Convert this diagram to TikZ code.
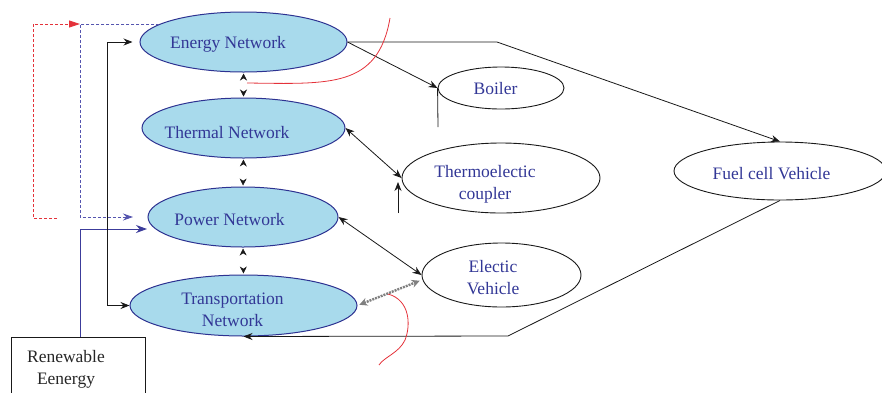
\documentclass[tikz,border=0pt]{standalone}
\usepackage{fontspec}
\setmainfont{Liberation Serif}
\usetikzlibrary{shapes.geometric,arrows.meta}
\definecolor{netfill}{RGB}{168,218,236}
\definecolor{netdraw}{RGB}{45,50,145}
\definecolor{nettext}{RGB}{50,55,150}
\definecolor{redl}{RGB}{228,50,58}
\definecolor{bluedash}{RGB}{85,85,175}
\definecolor{bluel}{RGB}{60,60,155}
\begin{document}
\begin{tikzpicture}[x=1pt,y=-1pt,
  font=\fontsize{17.5}{21.5}\selectfont,
  net/.style={ellipse, draw=netdraw, fill=netfill, line width=1pt, inner sep=0pt},
  dev/.style={ellipse, draw=black!90, line width=0.9pt, inner sep=0pt},
  lbl/.style={text=nettext, align=center, inner sep=0pt},
  conn/.style={draw=black!90, line width=0.8pt},
  tipend/.style={-{Stealth[length=9pt,width=7pt]}},
  tipboth/.style={{Stealth[length=9pt,width=7pt]}-{Stealth[length=9pt,width=7pt]}},
  tipsonly/.style={draw=white, line width=0.6pt, {Stealth[black!90,length=7pt,width=7pt]}-{Stealth[black!90,length=7pt,width=7pt]}, shorten <=1pt, shorten >=1pt},
]
\useasboundingbox (0,0) rectangle (882,392);

% network ellipses
\node[net, minimum width=207pt, minimum height=60pt] (energy) at (243.5,42) {};
\node[net, minimum width=203pt, minimum height=60pt] (thermal) at (243.5,128) {};
\node[net, minimum width=190pt, minimum height=60pt] (power) at (243,217) {};
\node[net, minimum width=227pt, minimum height=61pt] (transport) at (243.5,305.5) {};

% device ellipses
\node[dev, minimum width=126pt, minimum height=42pt] (boiler) at (501,88) {};
\node[dev, minimum width=198pt, minimum height=70pt] (thermo) at (501,178) {};
\node[dev, minimum width=159pt, minimum height=64pt] (ev) at (501.5,275) {};
\node[dev, minimum width=212pt, minimum height=58pt] (fuel) at (780,171) {};

% renewable box
\node[draw=black!90, line width=0.8pt, minimum width=134pt, minimum height=70pt, inner sep=0pt] (renew) at (78,372) {};

% labels
\node[lbl, anchor=base] (energy-t) at (228,48) {Energy Network};
\node[lbl, anchor=base] (thermal-t) at (227,138) {Thermal Network};
\node[lbl, anchor=base] (power-t) at (229.5,225) {Power Network};
\node[lbl] (transport-t) at (232.5,310) {Transportation\\Network};
\node[lbl, anchor=base] (boiler-t) at (495.5,94) {Boiler};
\node[lbl] (thermo-t) at (485,184.5) {Thermoelectic\\coupler};
\node[lbl] (ev-t) at (493,277.5) {Electic\\Vehicle};
\node[lbl, anchor=base] (fuel-t) at (771.5,179) {Fuel cell Vehicle};
\node[align=center, inner sep=0pt, text=black!85] (renew-t) at (66,369.5) {Renewable\\Eenergy};

% coordinates for free ends and bends
\coordinate (rd-start) at (57,218);
\coordinate (rd-tip) at (80,24);
\coordinate (bd-turn) at (80,217);
\coordinate (bd-tip) at (133,217);
\coordinate (bl-tip) at (147,229);
\coordinate (ef-bend) at (497,42);
\coordinate (ft-bend) at (508,336);
\coordinate (boiler-stub) at (438,127);
\coordinate (thermo-stub) at (398,213);
\coordinate (thermo-stubtop) at (398,182);

% left feedback lines
\draw[redl, line width=0.9pt, dash pattern=on 3pt off 2pt, -{Triangle[length=11pt,width=7pt]}]
  (rd-start) -- (33,218) -- (33,24) -- (rd-tip);
\draw[bluedash, line width=0.9pt, dash pattern=on 3pt off 2pt, -{Stealth[length=10pt,width=7pt]}]
  (energy.168) -| (bd-turn) -- (bd-tip);
\draw[bluel, line width=0.9pt, -{Stealth[length=11pt,width=8pt]}]
  ([xshift=2pt]renew.north) |- (bl-tip);
\draw[conn, tipboth, shorten <=7pt] (energy.west) -- ++(-32,0) |- (transport.west);

% vertical arrow pairs (tips only)
\draw[tipsonly] (energy.south) -- (thermal.north);
\draw[tipsonly] (thermal.south) -- (power.north);
\draw[tipsonly] (power.south) -- (transport.north);

% right-side connectors
\draw[conn, tipend] (energy.east) -- (boiler.west);
\draw[conn] (boiler.west) -- (boiler-stub);
\draw[conn, tipend] (energy.east) -- (ef-bend) -- (fuel.north);
\draw[conn, tipboth] (thermal.east) -- (thermo.west);
\draw[conn, tipend] (thermo-stub) -- (thermo-stubtop);
\draw[conn, tipboth] (power.east) -- (ev.west);
\draw[gray, line width=2.4pt, dash pattern=on 2pt off 1pt,
  {Stealth[length=8pt,width=8pt]}-{Stealth[length=8pt,width=8pt]}, shorten <=2pt, shorten >=2pt]
  (transport.east) -- ([yshift=-5pt]ev.west);
\draw[conn, tipend] (fuel.south) -- (ft-bend) -- (transport.south);

% red hand-drawn curves
\draw[redl, line width=0.8pt] (247,83) .. controls (330,84) and (378,88) .. (390,18);
\draw[redl, line width=0.8pt] (388,294) .. controls (410,300) and (411,325) .. (405,340)
  .. controls (399,353) and (384,357) .. (379,365);
\end{tikzpicture}
\end{document}
